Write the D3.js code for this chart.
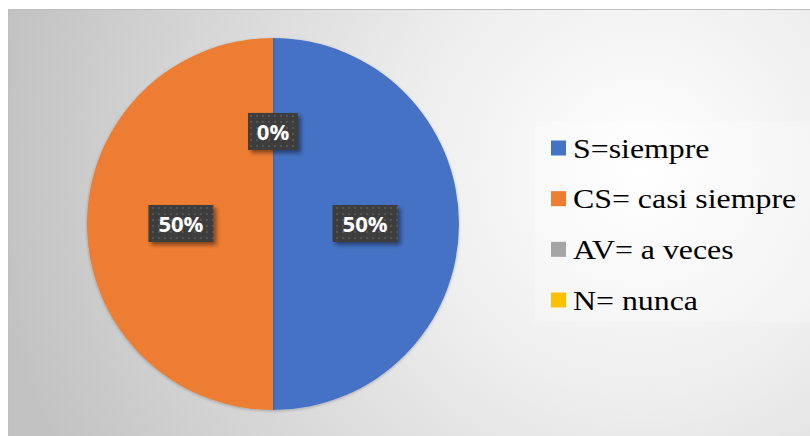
<!DOCTYPE html>
<html>
<head>
<meta charset="utf-8">
<script src="https://cdn.jsdelivr.net/npm/d3@7"></script>
<style>
  html, body { margin: 0; padding: 0; background: #ffffff; }
  svg { display: block; }
</style>
</head>
<body>
<svg id="chart" width="810" height="436"></svg>
<script>
const categories = ["S=siempre", "CS= casi siempre", "AV= a veces", "N= nunca"];
const values = [50, 50, 0, 0];
const colors = ["#4472C4", "#ED7D31", "#A5A5A5", "#FFC000"];

const svg = d3.select("#chart");
const W = 810, H = 436;
const defs = svg.append("defs");

const bg = defs.append("radialGradient").attr("id", "bg")
  .attr("gradientUnits", "userSpaceOnUse")
  .attr("cx", 640).attr("cy", 170).attr("r", 650);
bg.append("stop").attr("offset", "0").attr("stop-color", "#ffffff");
bg.append("stop").attr("offset", "0.35").attr("stop-color", "#eeeeee");
bg.append("stop").attr("offset", "1").attr("stop-color", "#c2c2c2");

const pat = defs.append("pattern").attr("id", "dots")
  .attr("patternUnits", "userSpaceOnUse").attr("width", 6).attr("height", 6);
pat.append("rect").attr("width", 6).attr("height", 6).attr("fill", "#3d3d3d");
pat.append("rect").attr("x", 1).attr("y", 1).attr("width", 2).attr("height", 2).attr("fill", "#545454");

const sh = defs.append("filter").attr("id", "shadow").attr("x", "-20%").attr("y", "-20%").attr("width", "150%").attr("height", "150%");
sh.append("feDropShadow").attr("dx", 3).attr("dy", 3).attr("stdDeviation", 2).attr("flood-color", "#000").attr("flood-opacity", 0.45);

const psh = defs.append("filter").attr("id", "pshadow").attr("x", "-10%").attr("y", "-10%").attr("width", "120%").attr("height", "120%");
psh.append("feDropShadow").attr("dx", 0).attr("dy", 1).attr("stdDeviation", 1.5).attr("flood-color", "#000").attr("flood-opacity", 0.25);

// chart area
svg.append("rect").attr("x", 8.5).attr("y", 9.5).attr("width", W - 8).attr("height", H - 9)
  .attr("fill", "url(#bg)").attr("stroke", "#bfbfbf").attr("stroke-width", 1);

// pie
const cx = 273, cy = 224, R = 186;
const pie = d3.pie().sort(null).value(d => d)(values);
const arc = d3.arc().innerRadius(0).outerRadius(R);
const labelArc = d3.arc().innerRadius(R * 0.495).outerRadius(R * 0.495);

const g = svg.append("g").attr("transform", `translate(${cx},${cy})`);
g.selectAll("path.slice").data(pie).join("path")
  .attr("class", "slice")
  .attr("d", arc)
  .attr("fill", (d, i) => colors[i])
  .attr("filter", "url(#pshadow)");

const fmt = d3.format(".0%");
const total = d3.sum(values);
const seen = new Set();
const labels = pie.filter(d => {
  const c = labelArc.centroid(d).map(v => Math.round(v)).join(",");
  if (seen.has(c)) return false;
  seen.add(c);
  return true;
});

const lg = g.selectAll("g.lbl").data(labels).join("g")
  .attr("class", "lbl")
  .attr("transform", d => {
    const [x, y] = labelArc.centroid(d);
    return `translate(${x},${y})`;
  });
lg.each(function(d) {
  const sel = d3.select(this);
  const txt = fmt(d.value / total);
  const w = txt.length <= 2 ? 50 : 65;
  sel.append("rect").attr("x", -w / 2).attr("y", -19).attr("width", w).attr("height", 37)
    .attr("fill", "url(#dots)").attr("filter", "url(#shadow)");
  sel.append("text").text(txt)
    .attr("text-anchor", "middle").attr("dy", "0.36em")
    .attr("fill", "#ffffff").attr("font-family", "'Open Sans', 'DejaVu Sans', sans-serif")
    .attr("font-weight", "bold").attr("font-size", 22);
});

// legend
svg.append("rect").attr("x", 535).attr("y", 122).attr("width", 275).attr("height", 200)
  .attr("fill", "#ffffff").attr("opacity", 0.25);
const lgY = d3.scalePoint().domain(categories).range([148, 300]);
const leg = svg.append("g").selectAll("g").data(categories).join("g")
  .attr("transform", d => `translate(551,${lgY(d)})`);
leg.append("rect").attr("x", 0).attr("y", -7.5).attr("width", 15).attr("height", 15)
  .attr("fill", (d, i) => colors[i]);
leg.append("text").text(d => d)
  .attr("transform", "translate(22,0) scale(1.18,1)")
  .attr("dy", "0.36em")
  .attr("font-family", "'Liberation Serif', 'Times New Roman', serif")
  .attr("font-size", 27).attr("fill", "#000000");
</script>
</body>
</html>
